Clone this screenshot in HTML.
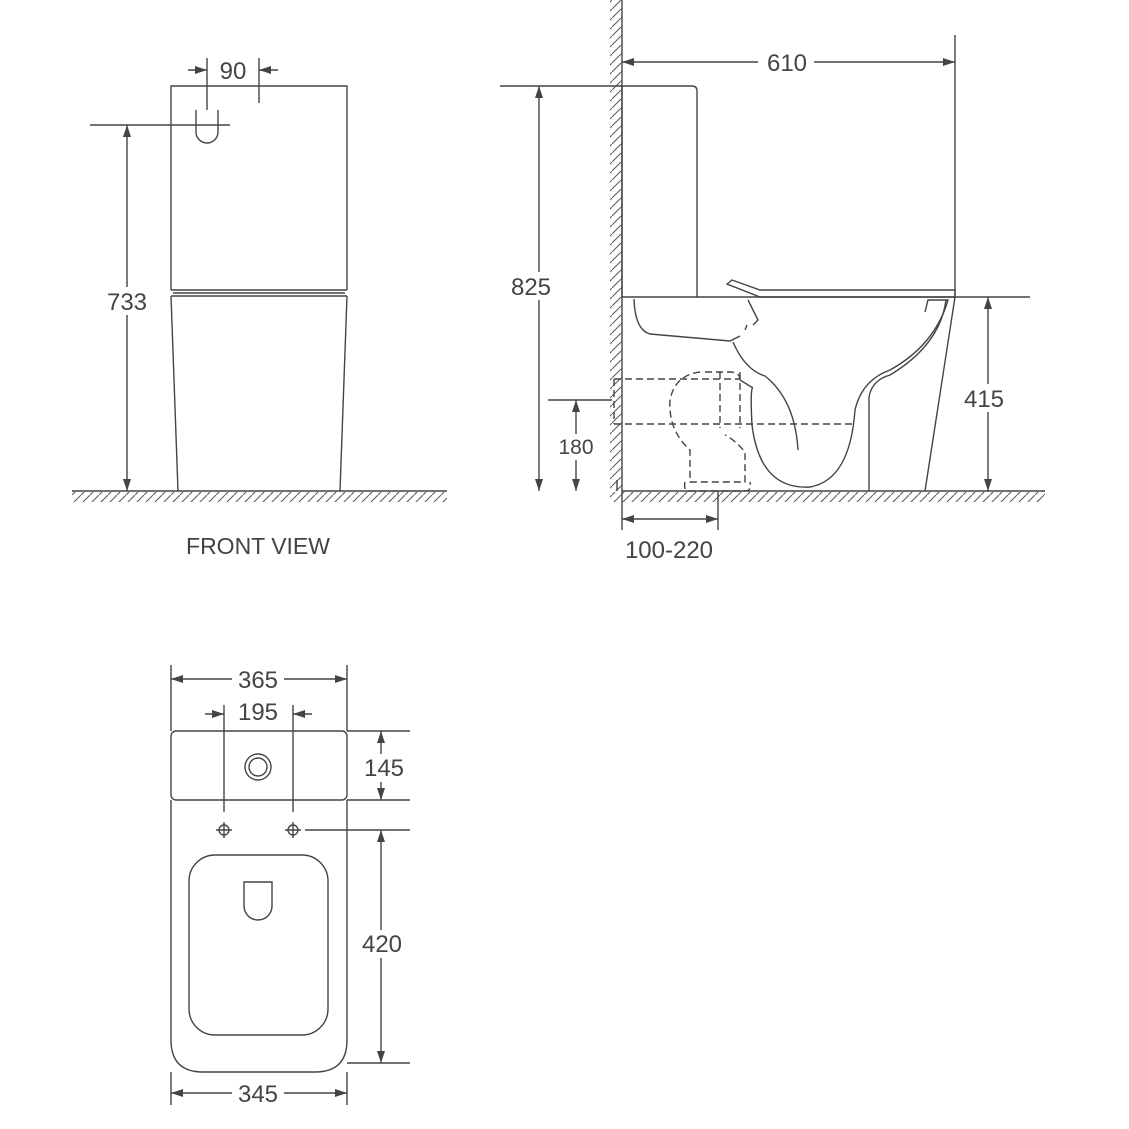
<!DOCTYPE html><html><head><style>body{margin:0;background:#fff}svg{display:block}text{font-family:"Liberation Sans",sans-serif;fill:#444}</style></head><body>
<svg width="1129" height="1129" viewBox="0 0 1129 1129" xmlns="http://www.w3.org/2000/svg">
<defs>
<pattern id="h" width="9" height="9" patternUnits="userSpaceOnUse"><path d="M0 9L9 0" stroke="#555" stroke-width="1"/></pattern>
<marker id="a" viewBox="0 0 12 8" refX="12" refY="4" markerWidth="12" markerHeight="8" orient="auto-start-reverse" markerUnits="userSpaceOnUse"><path d="M0 0L12 4L0 8z" fill="#444"/></marker>
</defs>
<g fill="none" stroke="#444" stroke-width="1.4">
<!-- FRONT VIEW -->
<rect x="72" y="492" width="375" height="10" fill="url(#h)" stroke="none"/>
<line x1="72" y1="491" x2="447" y2="491"/>
<path d="M171 290V86H347V290"/>
<path d="M171 290H347M171 296H347M173 293H345" />
<path d="M171 296L178 491M347 296L340 491"/>
<path d="M196 110V132A11 11 0 0 0 218 132V110"/>
<line x1="90" y1="125" x2="230" y2="125"/>
<line x1="207" y1="58" x2="207" y2="110"/>
<line x1="259" y1="58" x2="259" y2="103"/>
<line x1="188" y1="70" x2="207" y2="70" marker-end="url(#a)"/>
<line x1="278" y1="70" x2="259" y2="70" marker-end="url(#a)"/>
<line x1="127" y1="125" x2="127" y2="491" marker-start="url(#a)" marker-end="url(#a)"/>
<!-- SIDE VIEW -->
<rect x="610" y="0" width="12" height="491" fill="url(#h)" stroke="none"/>
<rect x="610" y="492" width="435" height="10" fill="url(#h)" stroke="none"/>
<line x1="622" y1="0" x2="622" y2="491"/>
<line x1="622" y1="491" x2="1045" y2="491"/>
<path d="M622 297V86H692Q697 86 697 91V297"/>
<path d="M622 297H1030"/>
<path d="M727 284L732 280L760 290H955V297H760Z"/>
<path d="M634 299Q635 330 650 334L730 341L740 336"/>
<path d="M748 300L758 320L753 325M747 325L745 330"/>
<path d="M733 342Q745 370 765 376Q795 400 798 450"/>
<path d="M740 380L753 388Q750 387 752 425Q760 490 810 487Q850 480 855 410Q862 380 890 370Q935 345 948 300L928 300L925 312"/>
<path d="M869 491V397Q872 380 890 375Q940 345 946 300"/>
<path d="M955 297L925 491"/>
<line x1="617" y1="480" x2="617" y2="491"/>
<g stroke-dasharray="7 4">
<path d="M614 379H740M614 424H855"/>
<path d="M614 379V424"/>
<path d="M720 372V428M740 372V428"/>
<path d="M705 372H730Q740 372 740 380M700 372Q675 375 670 400Q668 430 690 450V482H745V452Q735 440 725 435"/>
<path d="M685 482Q683 491 690 491H745Q752 491 750 482"/>
</g>
<line x1="955" y1="35" x2="955" y2="297"/>
<line x1="622" y1="62" x2="955" y2="62" marker-start="url(#a)" marker-end="url(#a)"/>
<line x1="500" y1="86" x2="622" y2="86"/>
<line x1="539" y1="86" x2="539" y2="491" marker-start="url(#a)" marker-end="url(#a)"/>
<line x1="988" y1="297" x2="988" y2="491" marker-start="url(#a)" marker-end="url(#a)"/>
<line x1="548" y1="400" x2="612" y2="400"/>
<line x1="576" y1="400" x2="576" y2="491" marker-start="url(#a)" marker-end="url(#a)"/>
<line x1="622" y1="491" x2="622" y2="530"/>
<line x1="718" y1="491" x2="718" y2="530"/>
<line x1="622" y1="519" x2="718" y2="519" marker-start="url(#a)" marker-end="url(#a)"/>
<!-- TOP VIEW -->
<rect x="171" y="731" width="176" height="69" rx="5"/>
<path d="M171 800V1040Q171 1072 203 1072H315Q347 1072 347 1040V800"/>
<rect x="189" y="855" width="139" height="180" rx="26"/>
<path d="M244 882V906A14 14 0 0 0 272 906V882Z"/>
<circle cx="258" cy="767" r="13"/><circle cx="258" cy="767" r="9"/>
<circle cx="224" cy="830" r="5"/><circle cx="293" cy="830" r="5"/>
<path d="M216 830H232M224 822V838M285 830H301M293 822V838"/>
<line x1="305" y1="830" x2="410" y2="830"/>
<line x1="171" y1="665" x2="171" y2="731"/>
<line x1="347" y1="665" x2="347" y2="731"/>
<line x1="171" y1="679" x2="347" y2="679" marker-start="url(#a)" marker-end="url(#a)"/>
<line x1="224" y1="705" x2="224" y2="812"/>
<line x1="293" y1="705" x2="293" y2="812"/>
<line x1="205" y1="714" x2="224" y2="714" marker-end="url(#a)"/>
<line x1="312" y1="714" x2="293" y2="714" marker-end="url(#a)"/>
<line x1="347" y1="731" x2="410" y2="731"/>
<line x1="347" y1="800" x2="410" y2="800"/>
<line x1="381" y1="731" x2="381" y2="800" marker-start="url(#a)" marker-end="url(#a)"/>
<line x1="347" y1="1063" x2="410" y2="1063"/>
<line x1="381" y1="830" x2="381" y2="1063" marker-start="url(#a)" marker-end="url(#a)"/>
<line x1="171" y1="1072" x2="171" y2="1105"/>
<line x1="347" y1="1072" x2="347" y2="1105"/>
<line x1="171" y1="1093" x2="347" y2="1093" marker-start="url(#a)" marker-end="url(#a)"/>
</g>
<g font-size="24" text-anchor="middle">
<rect x="210" y="58" width="40" height="24" fill="#fff"/><text x="233" y="79">90</text>
<rect x="104" y="287" width="46" height="28" fill="#fff"/><text x="127" y="310">733</text>
<text x="258" y="554" font-size="23">FRONT VIEW</text>
<rect x="758" y="50" width="56" height="24" fill="#fff"/><text x="787" y="71">610</text>
<rect x="505" y="272" width="50" height="28" fill="#fff"/><text x="531" y="295">825</text>
<rect x="960" y="384" width="50" height="28" fill="#fff"/><text x="984" y="407">415</text>
<rect x="556" y="434" width="40" height="26" fill="#fff"/><text x="576" y="454" font-size="21">180</text>
<text x="669" y="558">100-220</text>
<rect x="232" y="667" width="52" height="24" fill="#fff"/><text x="258" y="688">365</text>
<rect x="236" y="700" width="44" height="24" fill="#fff"/><text x="258" y="720">195</text>
<rect x="358" y="754" width="50" height="28" fill="#fff"/><text x="384" y="776">145</text>
<rect x="358" y="930" width="50" height="28" fill="#fff"/><text x="382" y="952">420</text>
<rect x="232" y="1082" width="52" height="24" fill="#fff"/><text x="258" y="1102">345</text>
</g>
</svg></body></html>
